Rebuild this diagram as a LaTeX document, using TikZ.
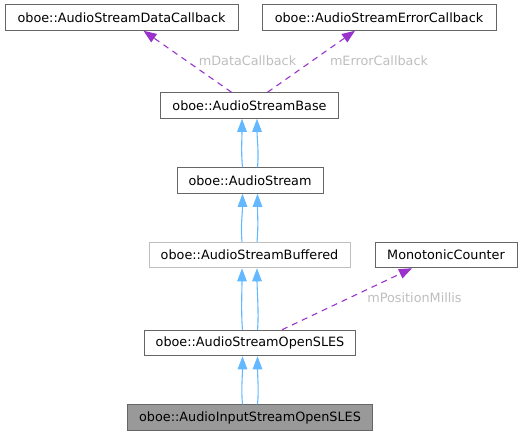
\documentclass[tikz,border=0pt]{standalone}
\usepackage{fontspec}
\setmainfont{DejaVu Sans}
\usetikzlibrary{arrows.meta}
\definecolor{edgeblue}{HTML}{63B8FF}
\definecolor{edgepurple}{HTML}{9A32CD}
\definecolor{boxborder}{HTML}{666666}
\definecolor{lightborder}{HTML}{BFBFBF}
\definecolor{labelgray}{HTML}{BEBEBE}
\definecolor{hlfill}{HTML}{999999}
\begin{document}
\begin{tikzpicture}[x=1pt,y=-1pt,
  cls/.style={draw=boxborder,line width=1pt,fill=white,minimum height=25.5pt,inner sep=0pt,font=\fontsize{12.8}{15}\selectfont},
  inh/.style={draw=edgeblue,line width=1.1pt,-{Triangle[length=13pt,width=9.5pt]}},
  use/.style={draw=edgepurple,line width=1.1pt,dash pattern=on 6pt off 5pt,-{Triangle[length=13pt,width=10pt]}},
  lbl/.style={text=labelgray,font=\fontsize{12.8}{15}\selectfont,inner sep=0pt}]
\useasboundingbox (0,0) rectangle (522,436);
\node[cls,minimum width=233pt] (data) at (121.5,17.5) {oboe::AudioStreamDataCallback};
\node[cls,minimum width=234pt] (err) at (379,17.5) {oboe::AudioStreamErrorCallback};
\node[cls,minimum width=178pt] (base) at (249.5,105.5) {oboe::AudioStreamBase};
\node[cls,minimum width=146pt] (as) at (250,180.5) {oboe::AudioStream};
\node[cls,draw=lightborder,minimum width=201pt] (buf) at (249.5,255) {oboe::AudioStreamBuffered};
\node[cls,minimum width=142pt] (mono) at (446,255) {MonotonicCounter};
\node[cls,minimum width=211pt] (sles) at (250,343) {oboe::AudioStreamOpenSLES};
\node[cls,fill=hlfill,minimum width=245pt] (inp) at (250,417.7) {oboe::AudioInputStreamOpenSLES};
% inheritance
\foreach \c/\p in {inp/sles,sles/buf,buf/as,as/base}{
  \draw[inh] ([xshift=-7.5pt]\c.north) .. controls +(-1.5,-15) and +(0,20) .. ([xshift=-7.5pt]\p.south);
  \draw[inh] ([xshift=7.5pt]\c.north) .. controls +(1.5,-15) and +(0,20) .. ([xshift=7.5pt]\p.south);
}
% usage
\draw[use] ([xshift=-18pt]base.north) -- ([xshift=22pt]data.south);
\draw[use] ([xshift=18pt]base.north) -- ([xshift=-24pt]err.south);
\draw[use] ([xshift=32pt]sles.north) -- ([xshift=-34pt]mono.south);
\node[lbl] (l1) at (247.5,61) {mDataCallback};
\node[lbl] (l2) at (379,61) {mErrorCallback};
\node[lbl] (l3) at (414.5,298) {mPositionMillis};
\end{tikzpicture}
\end{document}
